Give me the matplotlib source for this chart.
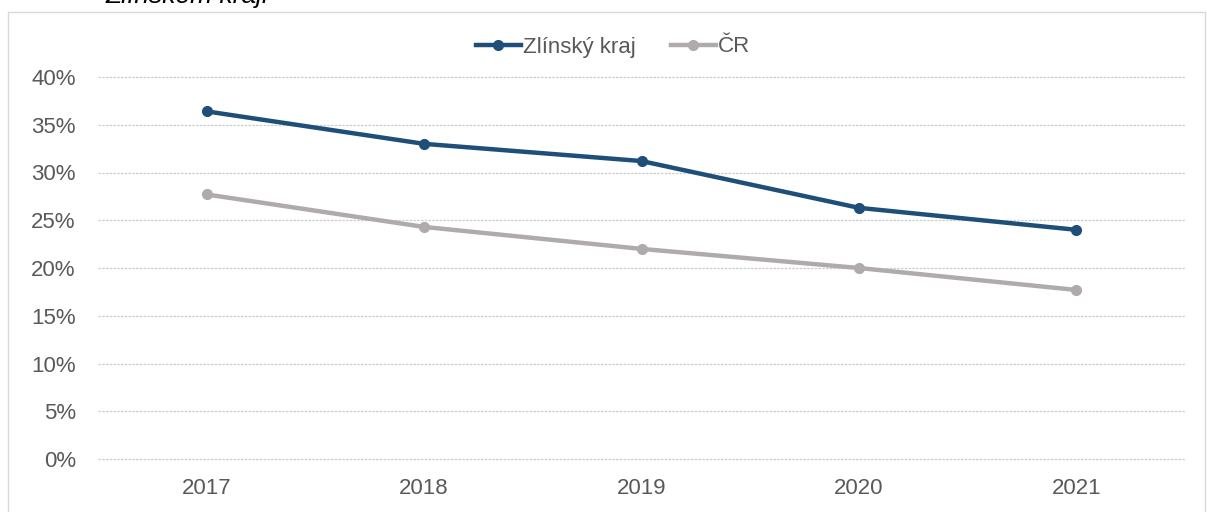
import matplotlib.pyplot as plt
from matplotlib.ticker import PercentFormatter

# data
years = ['2017', '2018', '2019', '2020', '2021']
zlinsky = [36.4, 33.0, 31.2, 26.3, 24.0]
cr = [27.7, 24.3, 22.0, 20.0, 17.7]

plt.rcParams['font.family'] = ['Liberation Sans', 'DejaVu Sans']

W, H = 1207, 512
fig = plt.figure(figsize=(W / 100, H / 100), dpi=100)
ax = fig.add_axes([98 / W, 1 - 459 / H, (1185 - 98) / W, (459 - 77) / H])

x = range(len(years))
ax.plot(x, zlinsky, color='#1F4E79', lw=3.2, marker='o', ms=7, label='Zlínský kraj')
ax.plot(x, cr, color='#AFABAB', lw=3.2, marker='o', ms=7, label='ČR')

ax.set_xlim(-0.5, len(years) - 0.5)
ax.set_ylim(0, 40)
ax.set_yticks(range(0, 41, 5))
ax.yaxis.set_major_formatter(PercentFormatter(decimals=0))
ax.set_xticks(list(x))
ax.set_xticklabels(years)
ax.tick_params(axis='both', length=0, labelsize=16, labelcolor='#595959')
ax.tick_params(axis='y', pad=16)
ax.tick_params(axis='x', pad=14)
for s in ax.spines.values():
    s.set_visible(False)
ax.grid(axis='y', color='#CDCDCD', lw=0.9, ls=(0, (2, 1)))
ax.set_axisbelow(True)
for gl in ax.get_ygridlines():
    gl.set_clip_on(False)

leg = ax.legend(loc='center', bbox_to_anchor=(0.508, 1 - 47 / H), bbox_transform=fig.transFigure,
                ncol=2, frameon=False, fontsize=16, handlelength=2.0, handletextpad=0.1,
                columnspacing=1.6, labelcolor='#595959')

# outer chart border and cut title
fig.add_artist(plt.Rectangle((8 / W, -0.01), (1205 - 8) / W, 1 - 12 / H + 0.01,
                             transform=fig.transFigure, fill=False, ec='#D9D9D9', lw=1))
fig.text(106 / W, 1 - 3 / H, 'Zlínském kraji', fontsize=19, style='italic',
         ha='left', va='baseline', color='black')

fig.savefig('out.png', dpi=100)
